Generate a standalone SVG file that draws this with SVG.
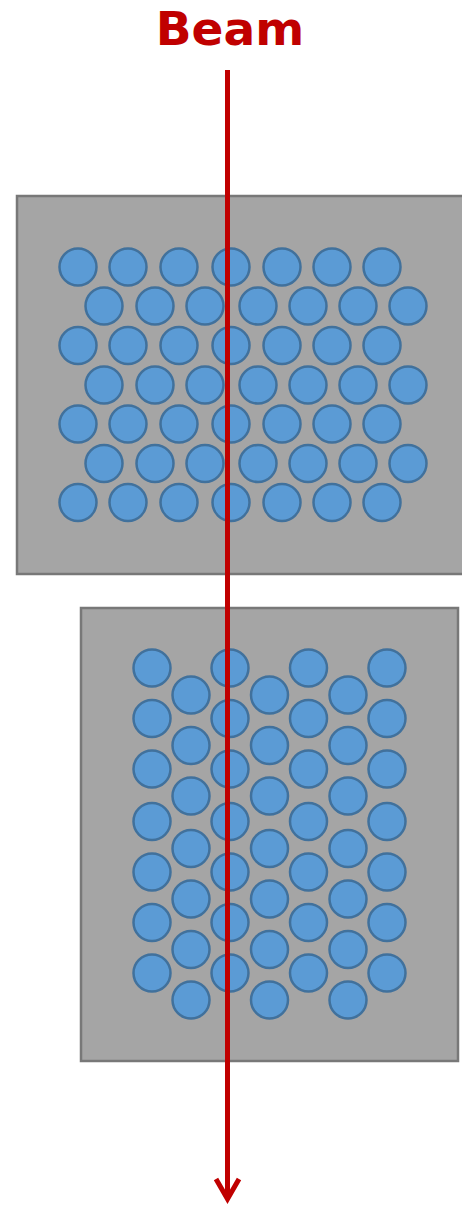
<svg xmlns="http://www.w3.org/2000/svg" width="462" height="1209" viewBox="0 0 462 1209">
<style>
.box{fill:#a5a5a5;stroke:#787878;stroke-width:2.5}
.c{fill:#5b9bd5;stroke:#41719c;stroke-width:2.5}
.beam{stroke:#c00000;stroke-width:5;fill:none}
.t{font-family:"DejaVu Sans",sans-serif;font-weight:bold;font-size:47px;fill:#c00000}
</style>
<defs>
<g id="r1"><circle class="c" cx="78" cy="0" r="18.5"/><circle class="c" cx="128" cy="0" r="18.5"/><circle class="c" cx="179" cy="0" r="18.5"/><circle class="c" cx="231" cy="0" r="18.5"/><circle class="c" cx="282" cy="0" r="18.5"/><circle class="c" cx="332" cy="0" r="18.5"/><circle class="c" cx="382" cy="0" r="18.5"/></g>
<g id="r2"><circle class="c" cx="104" cy="0" r="18.5"/><circle class="c" cx="155" cy="0" r="18.5"/><circle class="c" cx="205" cy="0" r="18.5"/><circle class="c" cx="258" cy="0" r="18.5"/><circle class="c" cx="308" cy="0" r="18.5"/><circle class="c" cx="358" cy="0" r="18.5"/><circle class="c" cx="408" cy="0" r="18.5"/></g>
<g id="ca"><circle class="c" cx="0" cy="668" r="18.5"/><circle class="c" cx="0" cy="718.5" r="18.5"/><circle class="c" cx="0" cy="769" r="18.5"/><circle class="c" cx="0" cy="821.5" r="18.5"/><circle class="c" cx="0" cy="872" r="18.5"/><circle class="c" cx="0" cy="922.5" r="18.5"/><circle class="c" cx="0" cy="973" r="18.5"/></g>
<g id="cb"><circle class="c" cx="0" cy="695" r="18.5"/><circle class="c" cx="0" cy="745.5" r="18.5"/><circle class="c" cx="0" cy="796" r="18.5"/><circle class="c" cx="0" cy="848.5" r="18.5"/><circle class="c" cx="0" cy="899" r="18.5"/><circle class="c" cx="0" cy="949.5" r="18.5"/><circle class="c" cx="0" cy="1000" r="18.5"/></g>
</defs>
<g id="label"><text class="t" x="230" y="45" text-anchor="middle">Beam</text></g>
<g id="top-bundle">
<rect class="box" x="17" y="196" width="460" height="378"/>
<use href="#r1" y="267"/><use href="#r2" y="306"/><use href="#r1" y="345.5"/><use href="#r2" y="385"/><use href="#r1" y="424"/><use href="#r2" y="463.5"/><use href="#r1" y="502.5"/>
</g>
<g id="bottom-bundle">
<rect class="box" x="81" y="608" width="377" height="453"/>
<use href="#ca" x="152"/><use href="#cb" x="191"/><use href="#ca" x="230"/><use href="#cb" x="269.5"/><use href="#ca" x="308.5"/><use href="#cb" x="348"/><use href="#ca" x="387"/>
</g>
<g id="connectors">
<line class="beam" x1="227.5" y1="70" x2="227.5" y2="1199"/>
<polyline class="beam" points="216,1179 227.5,1199 239,1179" stroke-linejoin="miter"/>
</g>
</svg>
